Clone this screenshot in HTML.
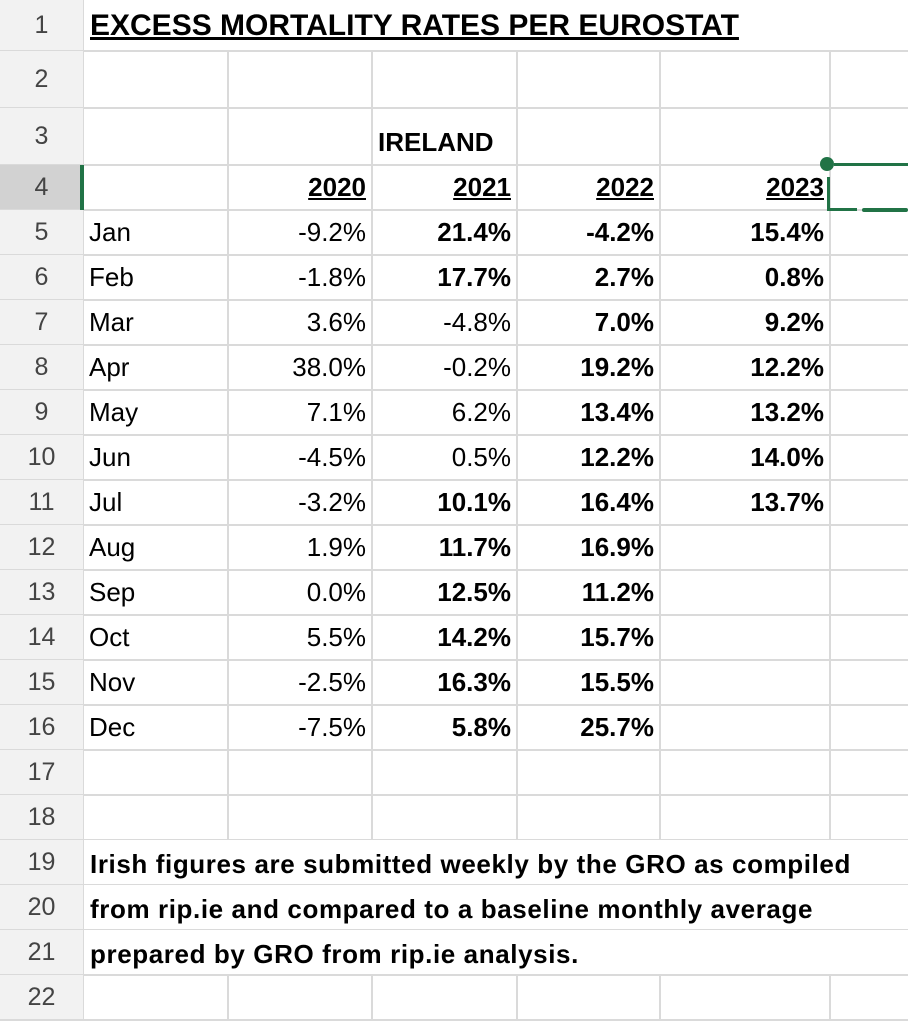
<!DOCTYPE html>
<html><head><meta charset="utf-8"><style>
body{margin:0;width:908px;height:1019px;overflow:hidden;background:#fff;font-family:"Liberation Sans",sans-serif;position:relative}
.hl{position:absolute;left:0;width:908px;height:2px;background:#dadada;z-index:0}
.vl{position:absolute;width:2px;background:#dadada;z-index:0}
.mask{position:absolute;background:#fff;z-index:1}
.rn{position:absolute;left:0;width:83px;text-align:center;font-size:25px;color:#444;background:#f2f2f2;z-index:1}
.c{position:absolute;font-size:26px;color:#000;white-space:nowrap;line-height:45px;z-index:2}
.r{text-align:right}
.b{font-weight:bold}
.u{text-decoration:underline}
</style></head><body>
<div class="c b u" style="left:90px;top:3px;font-size:30px;line-height:45px">EXCESS MORTALITY RATES PER EUROSTAT</div>
<div class="c b" style="left:378px;top:120px">IRELAND</div>
<div style="position:absolute;z-index:3;left:820px;top:157px;width:14px;height:14px;border-radius:50%;background:#217346"></div>
<div style="position:absolute;z-index:3;left:834px;top:163px;width:74px;height:3px;background:#217346"></div>
<div style="position:absolute;z-index:3;left:827px;top:177px;width:3px;height:34px;background:#217346"></div>
<div style="position:absolute;z-index:3;left:827px;top:208px;width:30px;height:3px;background:#217346"></div>
<div style="position:absolute;z-index:3;left:862px;top:208px;width:46px;height:4px;border-radius:2px;background:#217346"></div>
<div class="c b" style="left:90px;top:842px;font-size:26px;letter-spacing:0.6px">Irish figures are submitted weekly by the GRO as compiled</div>
<div class="c b" style="left:90px;top:887px;font-size:26px;letter-spacing:0.6px">from rip.ie and compared to a baseline monthly average</div>
<div class="c b" style="left:90px;top:932px;font-size:26px;letter-spacing:0.6px">prepared by GRO from rip.ie analysis.</div>
<script>
const months=["Jan","Feb","Mar","Apr","May","Jun","Jul","Aug","Sep","Oct","Nov","Dec"];
const years=["2020","2021","2022","2023"];
const v2020=["-9.2%","-1.8%","3.6%","38.0%","7.1%","-4.5%","-3.2%","1.9%","0.0%","5.5%","-2.5%","-7.5%"];
const v2021=["21.4%","17.7%","-4.8%","-0.2%","6.2%","0.5%","10.1%","11.7%","12.5%","14.2%","16.3%","5.8%"];
const v2022=["-4.2%","2.7%","7.0%","19.2%","13.4%","12.2%","16.4%","16.9%","11.2%","15.7%","15.5%","25.7%"];
const v2023=["15.4%","0.8%","9.2%","12.2%","13.2%","14.0%","13.7%"];
const bold2021=[1,1,0,0,0,0,1,1,1,1,1,1];
const bold2022=[1,1,1,1,1,1,1,1,1,1,1,1];
const rowTops=[0,51,108,165];for(let i=4;i<22;i++)rowTops.push(210+45*(i-4));rowTops.push(1020);
const colX=[83,228,372,517,660,830,908];
const body=document.body;
function add(el){body.appendChild(el);return el;}
for(let i=0;i<22;i++){
 const d=document.createElement('div');d.className='rn';
 
 
 d.style.top=rowTops[i]+'px';d.style.height=(rowTops[i+1]-rowTops[i]-1)+'px';d.style.lineHeight=(rowTops[i+1]-rowTops[i])+'px';
 if(i===3){d.style.background='#d2d2d2';}
 d.textContent=i+1;add(d);
 const h=document.createElement('div');h.className='hl';
 
 
 h.style.top=(rowTops[i+1]-1)+'px';add(h);
}
colX.slice(0,6).forEach((x,j)=>{
 const v=document.createElement('div');v.className='vl';
 
 
 v.style.left=(x-1)+'px';v.style.top='0';v.style.height='1019px';
 add(v);
});
const m=document.createElement('div');m.className='mask';m.style.cssText='left:84px;top:0;width:824px;height:50px';


add(m);
[18,19,20].forEach(i=>{
 const f=document.createElement('div');f.className='mask';
 f.style.left='84px';f.style.width='824px';f.style.top=rowTops[i]+'px';f.style.height=(rowTops[i+1]-rowTops[i]-1)+'px';
 
 
 add(f);
});
const gl=document.createElement('div');gl.style.cssText='position:absolute;z-index:3;left:80px;top:165px;width:4px;height:45px;background:#217346';

add(gl);
function cell(txt,x0,x1,top,cls,name){
 const d=document.createElement('div');d.className='c '+cls;
 
 
 d.style.left=x0+'px';d.style.width=(x1-x0-6)+'px';d.style.top=top+'px';d.textContent=txt;add(d);return d;
}
years.forEach((y,j)=>cell(y,colX[j+1],colX[j+2],165,'r b u','year-header-'+y));
const series=[v2020,v2021,v2022,v2023];
months.forEach((mo,i)=>{
 const top=rowTops[i+4];
 cell(mo,colX[0]+6,colX[1],top,'','month-label-'+mo.toLowerCase());
 series.forEach((s,j)=>{
  if(s[i]===undefined)return;
  let b=j===3?1:j===1?bold2021[i]:j===2?bold2022[i]:0;
  cell(s[i],colX[j+1],colX[j+2],top,'r'+(b?' b':''),'value-'+years[j]+'-'+mo.toLowerCase());
 });
});
</script>
</body></html>
